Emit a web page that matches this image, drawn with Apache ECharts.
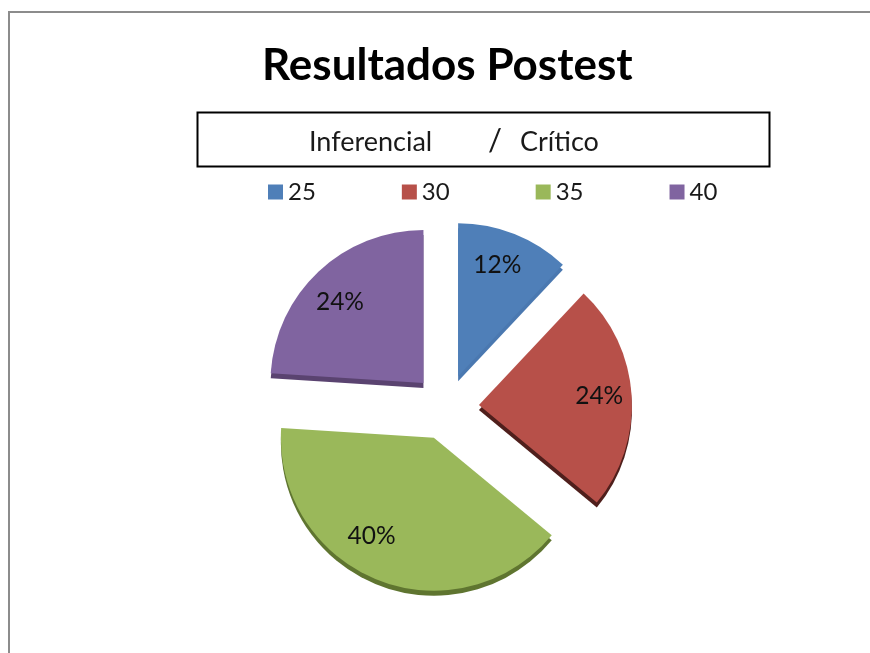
<!DOCTYPE html>
<html><head><meta charset="utf-8">
<style>html,body{margin:0;padding:0;background:#fff}#c{width:870px;height:653px}</style>
<script src="https://cdn.jsdelivr.net/npm/echarts@6/dist/echarts.min.js"></script>
</head><body><div id="c"></div>
<script>
const categories = ['25','30','35','40'];
const counts = [3,6,10,6];
const faceColors = ['#4f7fb8','#b75049','#9ab85a','#8064a0'];
const edgeColors = ['#4a78b0','#4f1f1c','#5f7530','#5a4370'];
const labelNudgeX = [-4,3,-19,-3];
const labelNudgeY = [-2,-1,-11,5];
const titleText = 'Resultados Postest';
const subtitleLeft = 'Inferencial';
const subtitleSlash = '/';
const subtitleRight = 'Crítico';
const FONT = 'Lato';

const chart = echarts.init(document.getElementById('c'), null, {renderer:'canvas'});
function slices(colors){
  return categories.map((n,i)=>({name:n,value:counts[i],selected:true,itemStyle:{color:colors[i]},select:{itemStyle:{color:colors[i],borderWidth:0}}}));
}
const common = {type:'pie',selectedMode:'multiple',selectedOffset:33,silent:true,startAngle:90,
  percentPrecision:0,animation:false,avoidLabelOverlap:false,labelLine:{show:false},emphasis:{disabled:true}};
chart.setOption({
  animation:false,
  backgroundColor:'#fff',
  title:{text:titleText,left:262,top:44,textStyle:{fontFamily:FONT,fontSize:44,fontWeight:'bold',color:'#000'},padding:0},
  legend:{data:categories,left:263,top:175,itemWidth:15,itemHeight:15,itemGap:86,icon:'rect',
    textStyle:{fontFamily:FONT,fontSize:24,color:'#1a1a1a'},selectedMode:false},
  graphic:[
    {type:'polyline',shape:{points:[[9,653],[9,12],[870,12]]},style:{stroke:'#8c8c8c',lineWidth:2,fill:null},silent:true},
    {type:'rect',shape:{x:197.5,y:112.5,width:572,height:54},style:{stroke:'#000',lineWidth:2,fill:'#fff'},silent:true},
    {type:'text',x:309,y:142,style:{text:subtitleLeft,fontFamily:FONT,fontSize:27,fill:'#1a1a1a',verticalAlign:'middle'},silent:true},
    {type:'text',x:488,y:141,style:{text:subtitleSlash,fontFamily:FONT,fontSize:31,fill:'#1a1a1a',verticalAlign:'middle'},silent:true},
    {type:'text',x:520,y:142,style:{text:subtitleRight,fontFamily:FONT,fontSize:27,fill:'#1a1a1a',verticalAlign:'middle'},silent:true}
  ],
  series:[
    Object.assign({},common,{name:'face',z:3,center:[446,407],radius:[0,153],label:{show:false},data:slices(faceColors)}),
    Object.assign({},common,{name:'edge',z:2,center:[446,412],radius:[0,153],label:{show:false},data:slices(edgeColors)}),
    Object.assign({},common,{name:'labels',z:4,center:[446,407],radius:[76,153],
      label:{show:true,position:'inside',formatter:'{d}%',fontFamily:FONT,fontSize:24.5,color:'#111'},
      labelLayout:function(p){return {dx:labelNudgeX[p.dataIndex],dy:labelNudgeY[p.dataIndex]};},
      data:categories.map((n,i)=>({name:n,value:counts[i],selected:true,itemStyle:{color:'rgba(0,0,0,0)'},select:{itemStyle:{color:'rgba(0,0,0,0)',borderWidth:0}}}))})
  ]
});
</script></body></html>
